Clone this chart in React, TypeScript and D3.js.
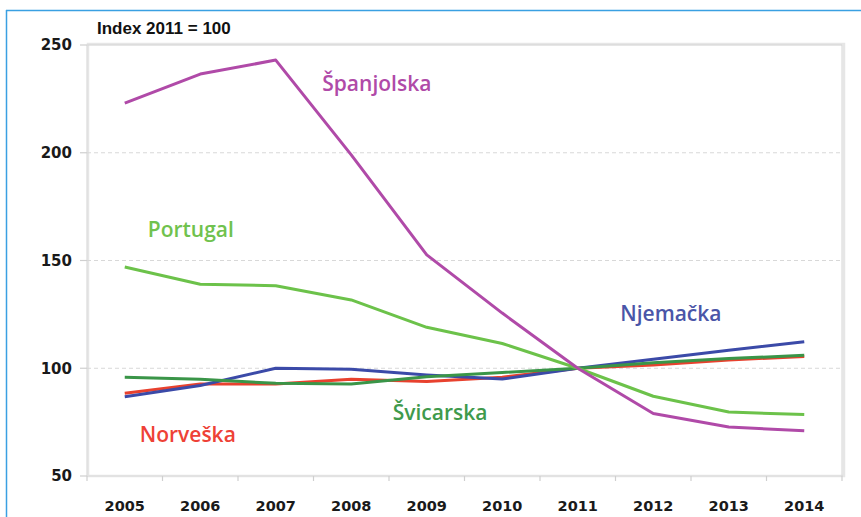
import * as d3 from 'd3'

const years = ['2005', '2006', '2007', '2008', '2009', '2010', '2011', '2012', '2013', '2014']
const yTicks = [50, 100, 150, 200, 250]
const gridValues = [100, 150, 200]

const spain = [223, 236.5, 243, 199, 152.6, 125.6, 100, 79, 72.7, 71]
const portugal = [147, 139, 138.3, 131.7, 119, 111.5, 100, 87, 79.7, 78.5]
const germany = [86.8, 92, 100, 99.5, 96.9, 95, 100, 104.2, 108.4, 112.3]
const switzerland = [95.8, 94.9, 93, 92.7, 96.1, 98, 100, 102.5, 104.5, 106]
const norway = [88.4, 92.7, 92.7, 94.9, 93.8, 95.8, 100, 101.5, 103.8, 105.5]

const series = [
  { name: 'Norveška', values: norway, color: '#e8412e', label: { year: '2005', value: 66, dx: 15 } },
  { name: 'Njemačka', values: germany, color: '#3b4aa8', label: { year: '2012', value: 122, dx: -33 } },
  { name: 'Švicarska', values: switzerland, color: '#3a9548', label: { year: '2009', value: 76, dx: -34 } },
  { name: 'Portugal', values: portugal, color: '#6cc24a', label: { year: '2005', value: 161, dx: 23 } },
  { name: 'Španjolska', values: spain, color: '#b04aa8', label: { year: '2008', value: 228.5, dx: -29 } },
]

const labelColors: Record<string, string> = {
  'Norveška': '#ee4136',
  'Njemačka': '#4a55a8',
  'Švicarska': '#3f9a4c',
  'Portugal': '#70c24e',
  'Španjolska': '#b04aa8',
}

export default function App() {
  const width = 861
  const height = 517
  const left = 87
  const right = 842
  const top = 45
  const bottom = 476

  const x = d3.scaleBand<string>().domain(years).range([left, right])
  const y = d3.scaleLinear().domain([50, 250]).range([bottom, top])
  const cx = (yr: string) => (x(yr) ?? 0) + x.bandwidth() / 2

  const line = d3
    .line<number>()
    .x((_, i) => cx(years[i]))
    .y((d) => y(d))

  const tickFont = 'DejaVu Sans, Verdana, sans-serif'
  const labelFont = '"Open Sans", "Noto Sans", sans-serif'

  return (
    <svg width={width} height={height} style={{ position: 'absolute', left: 0, top: 0 }}>
      <rect x={0} y={0} width={width} height={height} fill="#fff" />
      {/* outer blue frame */}
      <line x1={6.5} x2={6.5} y1={10} y2={height} stroke="#3aa0e2" strokeWidth={1.5} />
      <line x1={6} x2={width} y1={10.5} y2={10.5} stroke="#3aa0e2" strokeWidth={1.5} />

      <text x={97} y={34} fontFamily="Liberation Sans, Arial, sans-serif" fontWeight="bold" fontSize={17} fill="#111">
        Index 2011 = 100
      </text>

      {/* plot frame with soft shadow */}
      <rect x={left + 1} y={top - 1} width={right - left + 1} height={bottom - top + 1} fill="none" stroke="#e6e6e6" strokeWidth={2.5} />
      <line x1={left} x2={right} y1={top} y2={top} stroke="#d4d4d4" strokeWidth={1} />
      <line x1={right} x2={right} y1={top} y2={bottom} stroke="#d4d4d4" strokeWidth={1} />
      <line x1={left} x2={left} y1={top} y2={bottom} stroke="#dedede" strokeWidth={1.2} />
      <line x1={left} x2={right} y1={bottom} y2={bottom} stroke="#dedede" strokeWidth={1.2} />

      {gridValues.map((v) => (
        <line key={v} x1={left} x2={right} y1={y(v)} y2={y(v)} stroke="#d8d8d8" strokeDasharray="4 3" strokeWidth={1} />
      ))}

      {yTicks.map((v) => (
        <g key={v}>
          <line x1={left - 7} x2={left} y1={y(v)} y2={y(v)} stroke="#cfcfcf" strokeWidth={1.2} />
          <text x={left - 15} y={y(v)} dy="0.36em" textAnchor="end" fontFamily={tickFont} fontWeight="bold" fontSize={15} fill="#1a1a1a">
            {v}
          </text>
        </g>
      ))}

      {[...years.map((yr) => x(yr) ?? 0), right].map((px, i) => (
        <line key={i} x1={px} x2={px} y1={bottom} y2={bottom + 5} stroke="#cfcfcf" strokeWidth={1.2} />
      ))}

      {years.map((yr) => (
        <text key={yr} x={cx(yr)} y={511} textAnchor="middle" fontFamily={tickFont} fontWeight="bold" fontSize={14.5} fill="#1a1a1a">
          {yr}
        </text>
      ))}

      {series.map((s) => (
        <path key={s.name} d={line(s.values) ?? ''} fill="none" stroke={s.color} strokeWidth={3} strokeLinejoin="round" />
      ))}

      {series.map((s) => (
        <text
          key={s.name + '-label'}
          x={cx(s.label.year) + s.label.dx}
          y={y(s.label.value)}
          fontFamily={labelFont}
          fontWeight={600}
          fontSize={21}
          fill={labelColors[s.name]}
        >
          {s.name}
        </text>
      ))}
    </svg>
  )
}
